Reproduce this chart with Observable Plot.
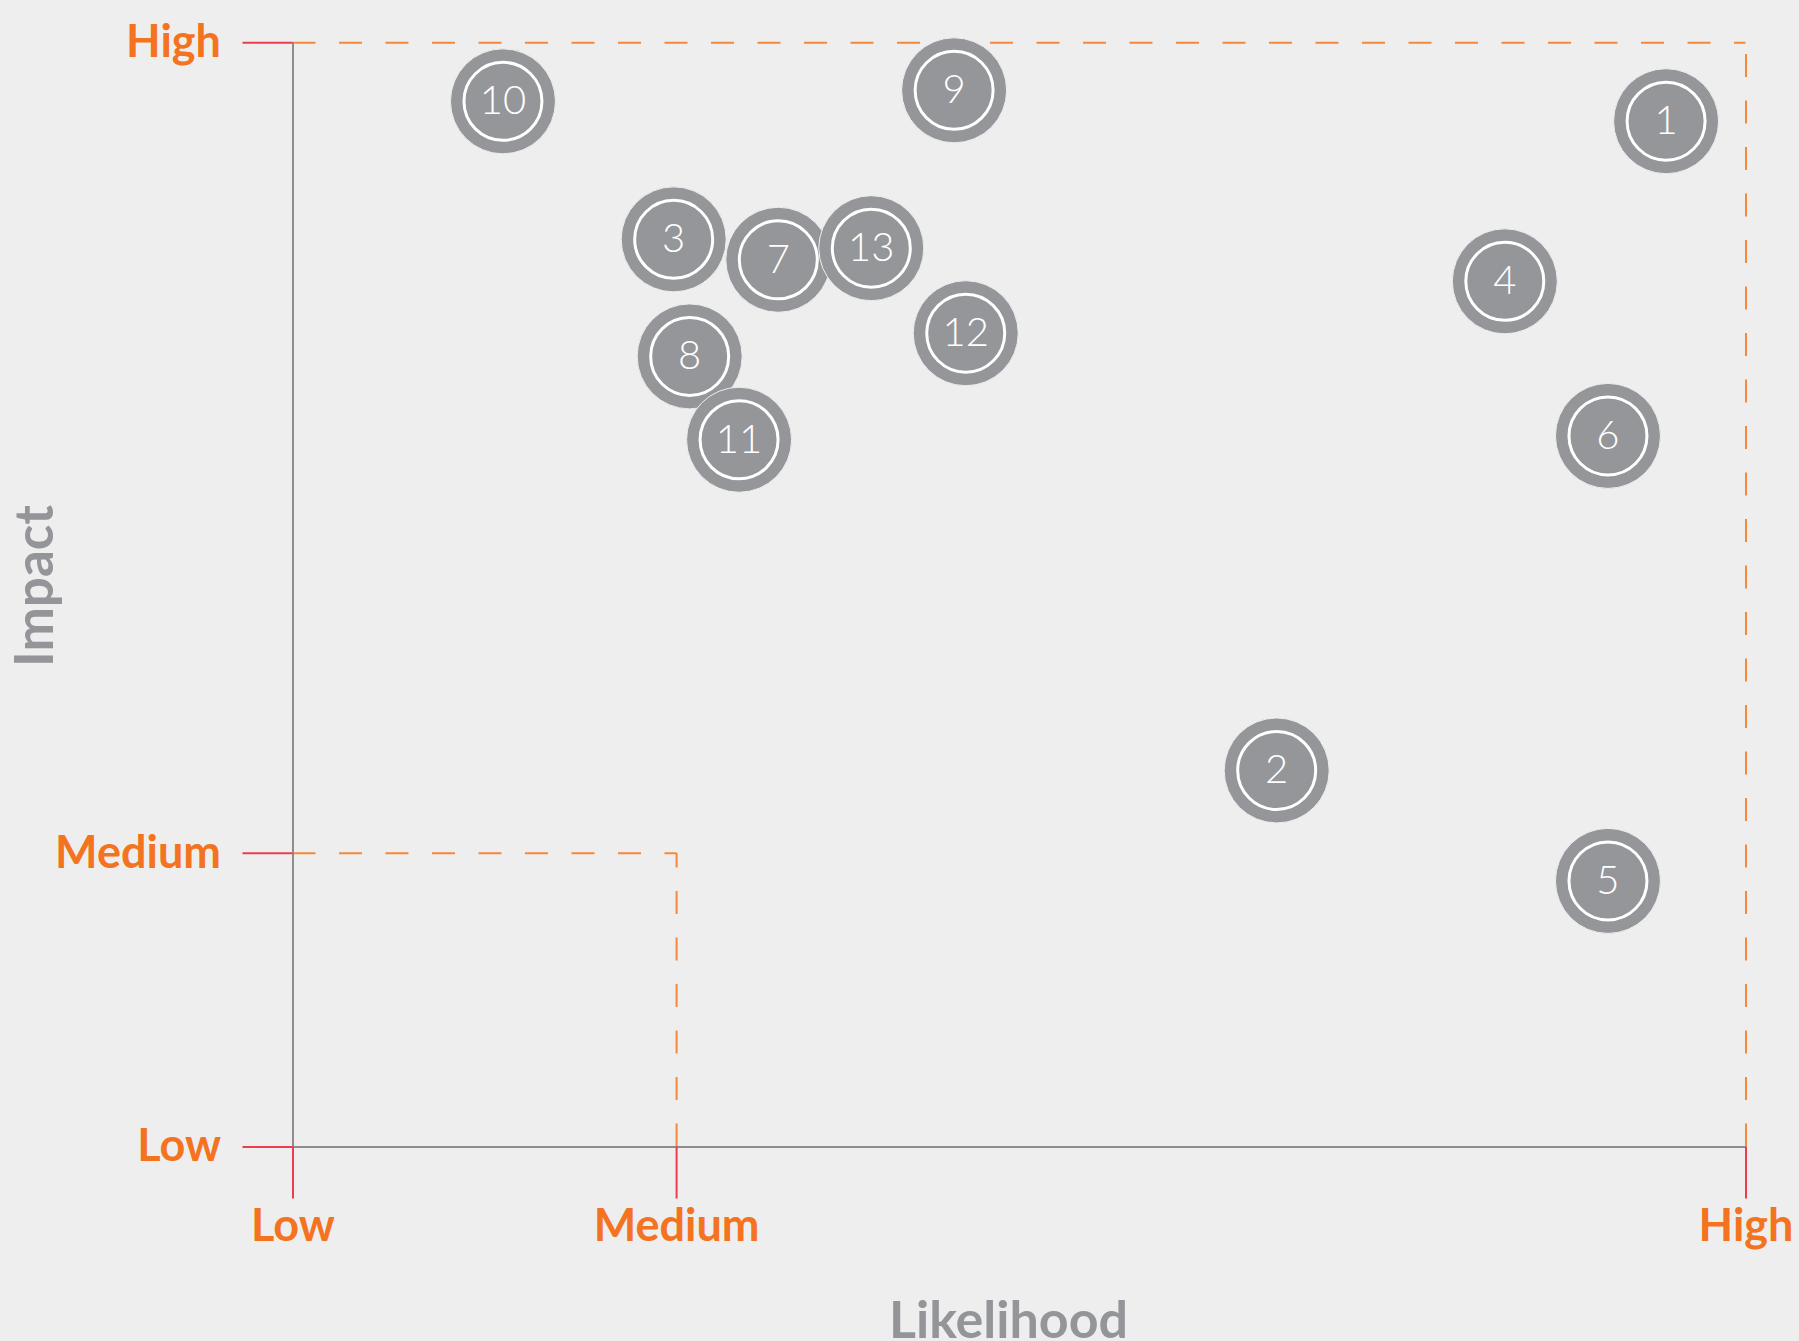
<!DOCTYPE html>
<html>
<head>
<meta charset="utf-8">
<script src="https://cdn.jsdelivr.net/npm/d3@7"></script>
<script src="https://cdn.jsdelivr.net/npm/@observablehq/plot@0.6"></script>
<style>
  html, body { margin: 0; padding: 0; background: #eeeeee; }
  #chart { width: 1799px; height: 1341px; overflow: hidden; }
</style>
</head>
<body>
<div id="chart"></div>
<script>
// Risk identifiers
const ids = [1, 2, 3, 4, 5, 6, 7, 8, 9, 10, 11, 12, 13];
// Likelihood (x) on a 0–100 scale
const likelihood = [94.5, 67.7, 26.2, 83.4, 90.5, 90.5, 33.4, 27.3, 45.5, 14.45, 30.7, 46.3, 39.8];
// Impact (y) on a 0–100 scale
const impact = [92.9, 34.1, 82.2, 78.4, 24.1, 64.4, 80.35, 71.6, 95.7, 94.7, 64.05, 73.7, 81.4];

// Tick positions and labels
const xTickValues = [0, 26.4, 100];
const yTickValues = [0, 26.6, 100];
const tickLabels = ["Low", "Medium", "High"];

const xTitle = "Likelihood";
const yTitle = "Impact";

const risks = ids.map((id, i) => ({id, likelihood: likelihood[i], impact: impact[i]}));

const [xLow, xMed, xHigh] = xTickValues;
const [yLow, yMed, yHigh] = yTickValues;

const ORANGE = "#f47321";
const DASH = "#f5883b";
const RED = "#ec3d4c";
const AXIS = "#8c8d90";
const BUBBLE = "#959699";
const TITLE = "#939598";
const FONT = "Lato, 'Open Sans', sans-serif";

const chart = Plot.plot({
  width: 1799,
  height: 1341,
  marginLeft: 292.5,
  marginRight: 53.5,
  marginTop: 42.3,
  marginBottom: 194.5,
  style: {background: "#eeeeee", fontFamily: FONT},
  x: {domain: [xLow, xHigh]},
  y: {domain: [yLow, yHigh]},
  marks: [
    // dashed quadrant guides
    Plot.ruleY([yHigh], {x1: xLow, x2: xHigh, stroke: DASH, strokeWidth: 2, strokeDasharray: "23,23.5"}),
    Plot.ruleX([xHigh], {y1: yLow, y2: yHigh, stroke: DASH, strokeWidth: 2, strokeDasharray: "23,23.5"}),
    Plot.ruleY([yMed], {x1: xLow, x2: xMed, stroke: DASH, strokeWidth: 2, strokeDasharray: "23,23.5"}),
    Plot.ruleX([xMed], {y1: yLow, y2: yMed, stroke: DASH, strokeWidth: 2, strokeDasharray: "23,23.5"}),
    // solid axis lines
    Plot.ruleY([yLow], {x1: xLow, x2: xHigh, stroke: AXIS, strokeWidth: 2}),
    Plot.ruleX([xLow], {y1: yLow, y2: yHigh, stroke: AXIS, strokeWidth: 2}),
    // axes
    Plot.axisX(xTickValues, {
      tickFormat: d => tickLabels[xTickValues.indexOf(d)],
      tickSize: 52, tickPadding: 10,
      stroke: RED, strokeWidth: 2, fill: ORANGE,
      fontSize: 45, fontWeight: "bold", fontFamily: FONT,
      label: null
    }),
    Plot.axisY(yTickValues, {
      tickFormat: d => tickLabels[yTickValues.indexOf(d)],
      tickSize: 50, tickPadding: 22,
      stroke: RED, strokeWidth: 2, fill: ORANGE,
      fontSize: 45, fontWeight: "bold", fontFamily: FONT,
      label: null
    }),
    // axis titles
    Plot.text([xTitle], {frameAnchor: "bottom", dx: -11, dy: 174.5, lineAnchor: "middle",
      fill: TITLE, fontSize: 52, fontWeight: "bold", fontFamily: FONT}),
    Plot.text([yTitle], {frameAnchor: "left", dx: -256.5, dy: -9, rotate: -90, textAnchor: "middle", lineAnchor: "middle",
      fill: TITLE, fontSize: 53, fontWeight: "bold", fontFamily: FONT}),
    // bubbles
    Plot.dot(risks, {x: "likelihood", y: "impact", r: 52.5, fill: BUBBLE, stroke: "#eeeeee", strokeWidth: 1}),
    Plot.dot(risks, {x: "likelihood", y: "impact", r: 39, fill: "none", stroke: "white", strokeWidth: 3}),
    Plot.text(risks, {x: "likelihood", y: "impact", text: d => String(d.id), fill: "white",
      fontSize: 40, fontWeight: 300, fontFamily: FONT, lineAnchor: "middle"})
  ]
});

document.getElementById("chart").appendChild(chart);
</script>
</body>
</html>
